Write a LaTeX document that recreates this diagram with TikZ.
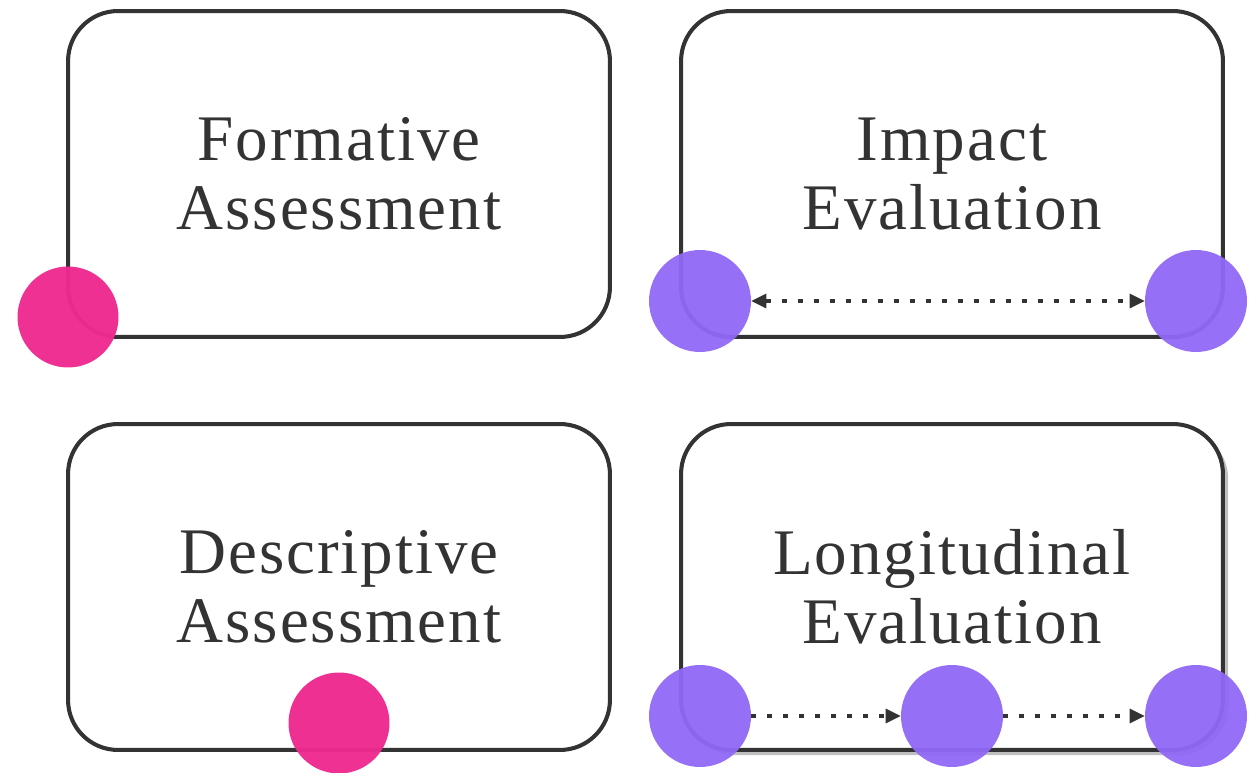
\documentclass[tikz,border=0pt]{standalone}
\usepackage{fontspec}
\setmainfont{Liberation Serif}[LetterSpace=3]
\usetikzlibrary{arrows.meta,shadows}
\definecolor{ink}{HTML}{333333}
\definecolor{dotpink}{HTML}{EE2A8F}
\definecolor{dotviolet}{HTML}{9068F5}

\begin{document}
\begin{tikzpicture}
	[
	x=0.02cm, y=-0.02cm,
	align=center,
	>={Triangle[length=0.3cm, width=0.3cm, line width=0pt]},
	box/.style={draw=ink, fill=white, line width=2.3pt, rounded corners=1cm,
		minimum width=10.84cm, minimum height=6.52cm, text=ink,
		font=\fontsize{37}{39.5}\selectfont},
	pinkdot/.style={circle, fill=dotpink, fill opacity=0.97, inner sep=0pt, minimum size=2.02cm},
	violetdot/.style={circle, fill=dotviolet, fill opacity=0.95, inner sep=0pt, minimum size=2.04cm},
	link/.style={draw=ink, line width=2.8pt, dash pattern=on 2.8pt off 6.3pt},
	]
		\useasboundingbox (0,0) rectangle (1255,773);
		
		% boxes
		\node[box] (fa) at 		( 339, 174 ) {Formative\\Assessment};
		\node[box] (ie) at 		( 952, 174 ) {Impact\\Evaluation};
		\node[box] (da) at 		( 339, 587 ) {Descriptive\\Assessment};
		\node[box, drop shadow={shadow xshift=3pt, shadow yshift=-3pt, opacity=0.5}]
			(le) at 		( 952, 587 ) {Longitudinal\\Evaluation};
		
		% left-hand dots
		\node[pinkdot] (fp) at 		(  68, 317 ) {};
		\node[pinkdot] (dp) at 		( 339, 723 ) {};
		
		% right-hand dots
		\node[violetdot] (ia) at 	( 700, 301 ) {};
		\node[violetdot] (ib) at 	(1196, 301 ) {};
		\node[violetdot] (la) at 	( 700, 716 ) {};
		\node[violetdot] (lb) at 	( 952, 716 ) {};
		\node[violetdot] (lc) at 	(1196, 716 ) {};
		
		\draw[link, <->] (ia) -- (ib);
		\foreach \from/\to in {la/lb,lb/lc} \draw[link, ->] (\from) -- (\to);
		
	\end{tikzpicture}
\end{document}
